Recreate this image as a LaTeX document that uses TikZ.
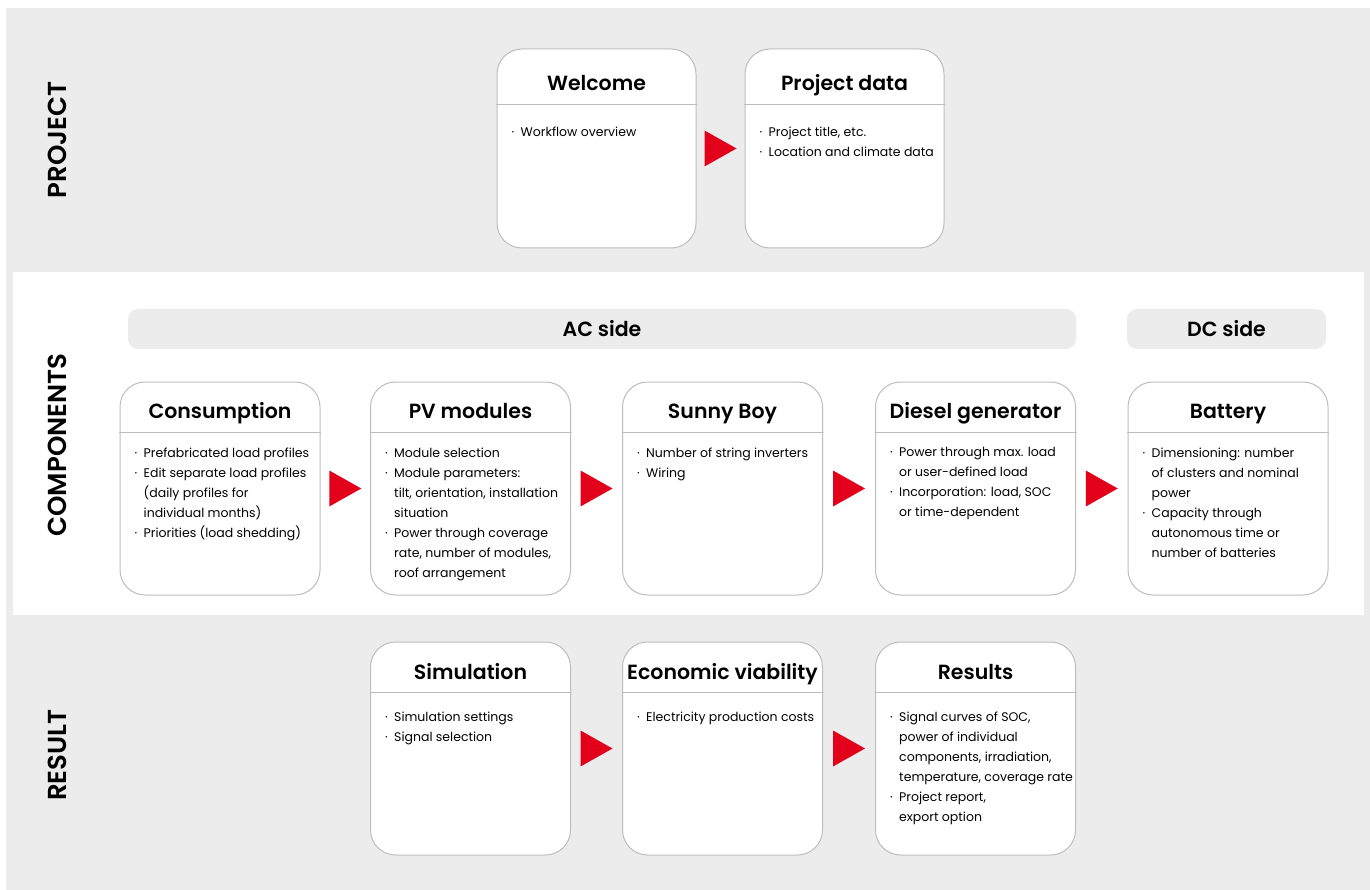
\documentclass[tikz,border=0pt]{standalone}
\usepackage{fontspec}
\setmainfont{Poppins}[BoldFont={Poppins SemiBold}]
\usetikzlibrary{calc}
\definecolor{bandgray}{HTML}{EBECEB}
\definecolor{cardline}{HTML}{BDBDBD}
\definecolor{arrowred}{HTML}{E2001A}
\newcommand{\itm}{\makebox[9pt][l]{·}}
\newcommand{\cnt}{\hspace*{9pt}}
\newcommand{\flowtri}[2]{\fill[arrowred] ($(#1.east)!.5!(#2.west)$) ++(-16,-18) -- ++(32,18) -- ++(-32,18) -- cycle;}
\tikzset{
  card/.style={draw=cardline, line width=1pt, fill=white, rounded corners=25pt, minimum width=200pt, minimum height=213pt, inner sep=0pt},
  divider/.style={draw=cardline, line width=1pt},
  cardhead/.style={anchor=base, inner sep=0pt, font=\fontsize{20.5}{24}\selectfont\bfseries},
  cardtext/.style={anchor=north west, inner sep=0pt, align=left, font=\fontsize{12.5}{20}\selectfont},
  rowlabel/.style={rotate=90, inner sep=0pt, font=\fontsize{26}{28}\selectfont\bfseries},
  sidebar/.style={fill=bandgray, rounded corners=10pt, minimum height=40pt, inner sep=0pt, font=\fontsize{20.5}{24}\selectfont\bfseries}
}
\begin{document}
\begin{tikzpicture}[x=1pt,y=-1pt,line join=round,line cap=round]
\useasboundingbox (0,0) rectangle (1370,890);
% bands
\fill[bandgray] (6,8) rectangle (1370,890);
\fill[white] (13,272) rectangle (1364,615);
% row labels
\node[rowlabel] (lproject) at (57,140) {PROJECT};
\node[rowlabel] (lcomp) at (57,445) {COMPONENTS};
\node[rowlabel] (lresult) at (57,755) {RESULT};
% AC / DC side
\node[sidebar, minimum width=948pt] (acside) at (602,329) {AC side};
\node[sidebar, minimum width=199pt] (dcside) at (1226.5,329) {DC side};

% project row
\node[card, minimum width=199pt, minimum height=199pt] (welcome) at (596.5,148.5) {};
\node[card, minimum width=199pt, minimum height=199pt] (pdata) at (844.5,148.5) {};
\foreach \c in {welcome,pdata}
  \draw[divider] ([yshift=-56pt]\c.north west) -- ([yshift=-56pt]\c.north east);
\node[cardhead] (welcomeT) at ([yshift=-42pt]welcome.north) {Welcome};
\node[cardhead] (pdataT) at ([yshift=-42pt]pdata.north) {Project data};
\node[cardtext] (welcomeB) at ([xshift=15pt,yshift=-78pt]welcome.north west) {\itm Workflow overview};
\node[cardtext] (pdataB) at ([xshift=15pt,yshift=-78pt]pdata.north west) {\itm Project title, etc.\\\itm Location and climate data};
\flowtri{welcome}{pdata}

% components row
\node[card] (cons) at (220,488.5) {};
\node[card] (pvmod) at (470.5,488.5) {};
\node[card] (sunny) at (722.5,488.5) {};
\node[card] (diesel) at (975.5,488.5) {};
\node[card] (battery) at (1228,488.5) {};
\foreach \c in {cons,pvmod,sunny,diesel,battery}
  \draw[divider] ([yshift=-51pt]\c.north west) -- ([yshift=-51pt]\c.north east);
\node[cardhead] (consT) at ([yshift=-37pt]cons.north) {Consumption};
\node[cardhead] (pvmodT) at ([yshift=-37pt]pvmod.north) {PV modules};
\node[cardhead] (sunnyT) at ([yshift=-37pt]sunny.north) {Sunny Boy};
\node[cardhead] (dieselT) at ([yshift=-37pt]diesel.north) {Diesel generator};
\node[cardhead] (batteryT) at ([yshift=-37pt]battery.north) {Battery};
\node[cardtext] (consB) at ([xshift=15pt,yshift=-66pt]cons.north west)
  {\itm Prefabricated load profiles\\\itm Edit separate load profiles\\\cnt(daily profiles for\\\cnt individual months)\\\itm Priorities (load shedding)};
\node[cardtext] (pvmodB) at ([xshift=15pt,yshift=-66pt]pvmod.north west)
  {\itm Module selection\\\itm Module parameters:\\\cnt tilt, orientation, installation\\\cnt situation\\\itm Power through coverage\\\cnt rate, number of modules,\\\cnt roof arrangement};
\node[cardtext] (sunnyB) at ([xshift=15pt,yshift=-66pt]sunny.north west)
  {\itm Number of string inverters\\\itm Wiring};
\node[cardtext] (dieselB) at ([xshift=15pt,yshift=-66pt]diesel.north west)
  {\itm Power through max. load\\\cnt or user-defined load\\\itm Incorporation: load, SOC\\\cnt or time-dependent};
\node[cardtext] (batteryB) at ([xshift=15pt,yshift=-66pt]battery.north west)
  {\itm Dimensioning: number\\\cnt of clusters and nominal\\\cnt power\\\itm Capacity through\\\cnt autonomous time or\\\cnt number of batteries};
\flowtri{cons}{pvmod}
\flowtri{pvmod}{sunny}
\flowtri{sunny}{diesel}
\flowtri{diesel}{battery}

% result row
\node[card] (simul) at (470.5,748.5) {};
\node[card] (econ) at (722.5,748.5) {};
\node[card] (results) at (975.5,748.5) {};
\foreach \c in {simul,econ,results}
  \draw[divider] ([yshift=-51pt]\c.north west) -- ([yshift=-51pt]\c.north east);
\node[cardhead] (simulT) at ([yshift=-38pt]simul.north) {Simulation};
\node[cardhead] (econT) at ([yshift=-38pt]econ.north) {Economic viability};
\node[cardhead] (resultsT) at ([yshift=-38pt]results.north) {Results};
\node[cardtext] (simulB) at ([xshift=15pt,yshift=-70pt]simul.north west)
  {\itm Simulation settings\\\itm Signal selection};
\node[cardtext] (econB) at ([xshift=15pt,yshift=-70pt]econ.north west)
  {\itm Electricity production costs};
\node[cardtext] (resultsB) at ([xshift=15pt,yshift=-70pt]results.north west)
  {\itm Signal curves of SOC,\\\cnt power of individual\\\cnt components, irradiation,\\\cnt temperature, coverage rate\\\itm Project report,\\\cnt export option};
\flowtri{simul}{econ}
\flowtri{econ}{results}
\end{tikzpicture}
\end{document}
